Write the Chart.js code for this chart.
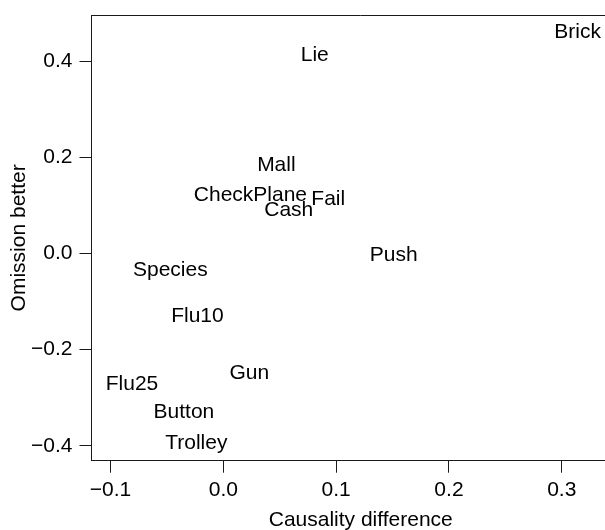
<!DOCTYPE html>
<html>
<head>
<meta charset="utf-8">
<script src="https://cdn.jsdelivr.net/npm/chart.js@4/dist/chart.umd.min.js"></script>
<style>
  html, body { margin: 0; padding: 0; background: #fff; overflow: hidden; }
  #wrap { width: 630px; height: 530px; }
</style>
</head>
<body>
<div id="wrap"><canvas id="c" width="630" height="530"></canvas></div>
<script>
const scenarios = ["Brick","Lie","Mall","CheckPlane","Fail","Cash","Push","Species","Flu10","Gun","Flu25","Button","Trolley"];
const causalityDiff = [0.314, 0.081, 0.047, 0.024, 0.093, 0.058, 0.151, -0.047, -0.023, 0.023, -0.081, -0.035, -0.024];
const omissionBetter = [0.463, 0.415, 0.186, 0.124, 0.115, 0.092, -0.001, -0.033, -0.129, -0.246, -0.269, -0.327, -0.393];
const xTicks = [-0.1, 0.0, 0.1, 0.2, 0.3];
const yTicks = [-0.4, -0.2, 0.0, 0.2, 0.4];

const FONT = "'Liberation Sans', Arial, Helvetica, sans-serif";
const INK = '#1a1a1a';

function fmt(v) {
  if (Math.abs(v) < 1e-9) v = 0;
  return v.toFixed(1).replace('-', '\u2212');
}

const labelPlugin = {
  id: 'pointLabels',
  afterDatasetsDraw(chart) {
    const ctx = chart.ctx;
    const meta = chart.getDatasetMeta(0);
    ctx.save();
    ctx.font = '21px ' + FONT;
    ctx.fillStyle = '#000';
    ctx.textAlign = 'center';
    ctx.textBaseline = 'middle';
    meta.data.forEach((el, i) => {
      ctx.fillText(scenarios[i], el.x, el.y + 1);
    });
    ctx.restore();
  },
  afterDraw(chart) {
    const a = chart.chartArea;
    const ctx = chart.ctx;
    ctx.save();
    ctx.strokeStyle = INK;
    ctx.lineWidth = 1;
    ctx.beginPath();
    ctx.moveTo(a.left, Math.round(a.top) + 0.5);
    ctx.lineTo(a.right, Math.round(a.top) + 0.5);
    ctx.stroke();
    ctx.restore();
  }
};

new Chart(document.getElementById('c'), {
  type: 'scatter',
  data: {
    datasets: [{
      data: causalityDiff.map((x, i) => ({ x: x, y: omissionBetter[i] })),
      pointRadius: 0,
      pointHoverRadius: 0,
      showLine: false
    }]
  },
  options: {
    responsive: false,
    animation: false,
    events: [],
    layout: { padding: { top: 15, right: 0, left: 0, bottom: 0 } },
    plugins: { legend: { display: false }, tooltip: { enabled: false } },
    scales: {
      x: {
        type: 'linear',
        min: -0.1169,
        max: 0.3605,
        afterBuildTicks: (s) => { s.ticks = xTicks.map(v => ({ value: v })); },
        afterFit: (s) => { s.height = 69.3; s.paddingLeft = 0; s.paddingRight = 0; },
        ticks: {
          callback: (v) => fmt(v),
          font: { family: FONT, size: 21 },
          color: '#000',
          padding: 5,
          maxRotation: 0,
          autoSkip: false
        },
        grid: { drawOnChartArea: false, drawTicks: true, tickLength: 12, color: INK, tickColor: INK },
        border: { display: true, color: INK, width: 1 },
        title: {
          display: true,
          text: 'Causality difference',
          font: { family: FONT, size: 21 },
          color: '#000',
          padding: { top: 0, bottom: -3 }
        }
      },
      y: {
        type: 'linear',
        min: -0.4308,
        max: 0.4958,
        afterBuildTicks: (s) => { s.ticks = yTicks.map(v => ({ value: v })); },
        afterFit: (s) => { s.width = 91.5; s.paddingTop = 0; s.paddingBottom = 0; },
        ticks: {
          callback: (v) => fmt(v),
          font: { family: FONT, size: 21 },
          color: '#000',
          padding: 7,
          autoSkip: false
        },
        grid: { drawOnChartArea: false, drawTicks: true, tickLength: 12, color: INK, tickColor: INK },
        border: { display: true, color: INK, width: 1 },
        title: {
          display: true,
          text: 'Omission better',
          font: { family: FONT, size: 21 },
          color: '#000',
          padding: { top: 7, bottom: 0 }
        }
      }
    }
  },
  plugins: [labelPlugin]
});
</script>
</body>
</html>
